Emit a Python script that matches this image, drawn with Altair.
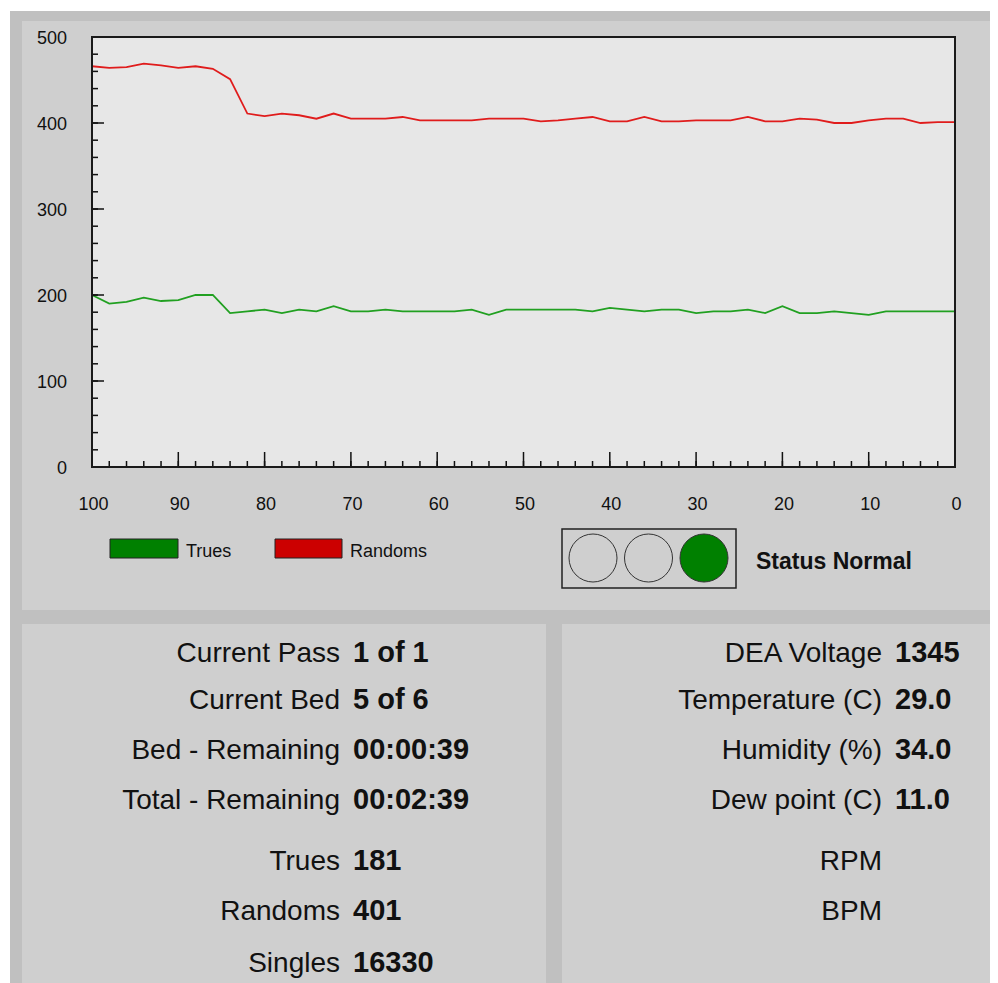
import altair as alt
import pandas as pd

# ---------------- data ----------------
seconds = [100, 98, 96, 94, 92, 90, 88, 86, 84, 82, 80, 78, 76, 74, 72, 70, 68, 66, 64, 62,
           60, 58, 56, 54, 52, 50, 48, 46, 44, 42, 40, 38, 36, 34, 32, 30, 28, 26, 24, 22,
           20, 18, 16, 14, 12, 10, 8, 6, 4, 2, 0]
trues = [200, 190, 192, 197, 193, 194, 200, 200, 179, 181, 183, 179, 183, 181, 187, 181, 181, 183, 181, 181,
         181, 181, 183, 177, 183, 183, 183, 183, 183, 181, 185, 183, 181, 183, 183, 179, 181, 181, 183, 179,
         187, 179, 179, 181, 179, 177, 181, 181, 181, 181, 181]
randoms = [466, 464, 465, 469, 467, 464, 466, 463, 451, 411, 408, 411, 409, 405, 411, 405, 405, 405, 407, 403,
           403, 403, 403, 405, 405, 405, 402, 403, 405, 407, 402, 402, 407, 402, 402, 403, 403, 403, 407, 402,
           402, 405, 404, 400, 400, 403, 405, 405, 400, 401, 401]
series_names = ["Trues", "Randoms"]
line_colors = ["#21a021", "#e01c1c"]
swatch_colors = ["#008000", "#cc0000"]

x_major = [100, 90, 80, 70, 60, 50, 40, 30, 20, 10, 0]
x_minor = list(range(0, 101, 2))
y_major = [0, 100, 200, 300, 400, 500]
y_minor = list(range(0, 501, 20))

left_labels = ["Current Pass", "Current Bed", "Bed - Remaining", "Total - Remaining",
               "Trues", "Randoms", "Singles"]
left_values = ["1 of 1", "5 of 6", "00:00:39", "00:02:39", "181", "401", "16330"]
right_labels = ["DEA Voltage", "Temperature (C)", "Humidity (%)", "Dew point (C)", "RPM", "BPM"]
right_values = ["1345", "29.0", "34.0", "11.0", "", ""]
status_text = "Status Normal"
status_lamps = ["off", "off", "on"]

# ---------------- layout (page pixel coords) ----------------
OX, OY, W, H = 92, 37, 863, 430
FONT = "Liberation Sans"
INK = "#111111"


def rx(X):
    return X - OX


def ry(Y):
    return Y - OY


one = pd.DataFrame({"k": [0]})


def rect(x1, y1, x2, y2, fill=None, stroke=None, sw=1.0):
    kw = {}
    if fill is not None:
        kw["fill"] = fill
    else:
        kw["fillOpacity"] = 0
    if stroke is not None:
        kw["stroke"] = stroke
        kw["strokeWidth"] = sw
    else:
        kw["strokeWidth"] = 0
    return alt.Chart(one).mark_rect(**kw).encode(
        x=alt.value(rx(x1)), x2=alt.value(rx(x2)),
        y=alt.value(ry(y1)), y2=alt.value(ry(y2)))


def text(s, X, Y, size, bold=False, align="left"):
    return alt.Chart(one).mark_text(
        text=s, align=align, baseline="alphabetic", fontSize=size,
        fontWeight="bold" if bold else "normal", font=FONT, color=INK
    ).encode(x=alt.value(rx(X)), y=alt.value(ry(Y)))


xs = alt.Scale(domain=[0, 100], reverse=True, nice=False, zero=False)
ys = alt.Scale(domain=[0, 500], nice=False)

layers = []
# backgrounds
layers.append(rect(10, 11, 1000, 990, fill="#c0c0c0"))
layers.append(rect(22, 21, 1000, 610, fill="#cfcfcf"))
layers.append(rect(22, 624, 546, 990, fill="#cfcfcf"))
layers.append(rect(562, 624, 1000, 990, fill="#cfcfcf"))
layers.append(rect(OX, OY, OX + W, OY + H, fill="#e7e7e7"))

# data lines
df = pd.DataFrame({
    "t": seconds * 2,
    "value": trues + randoms,
    "series": [series_names[0]] * len(seconds) + [series_names[1]] * len(seconds),
})
lines = alt.Chart(df).mark_line(strokeWidth=1.8).encode(
    x=alt.X("t:Q", scale=xs, axis=None),
    y=alt.Y("value:Q", scale=ys, axis=None),
    color=alt.Color("series:N", scale=alt.Scale(domain=series_names, range=line_colors),
                    legend=None),
)
layers.append(lines)

# inward ticks
tick_col = "#111111"
layers.append(alt.Chart(pd.DataFrame({"t": x_minor})).mark_rule(color=tick_col, strokeWidth=1.5).encode(
    x=alt.X("t:Q", scale=xs, axis=None), y=alt.value(H), y2=alt.value(H - 6)))
layers.append(alt.Chart(pd.DataFrame({"t": x_major})).mark_rule(color=tick_col, strokeWidth=1.5).encode(
    x=alt.X("t:Q", scale=xs, axis=None), y=alt.value(H), y2=alt.value(H - 15)))
layers.append(alt.Chart(pd.DataFrame({"value": y_minor})).mark_rule(color=tick_col, strokeWidth=1.5).encode(
    y=alt.Y("value:Q", scale=ys, axis=None), x=alt.value(0), x2=alt.value(6)))
layers.append(alt.Chart(pd.DataFrame({"value": y_major})).mark_rule(color=tick_col, strokeWidth=1.5).encode(
    y=alt.Y("value:Q", scale=ys, axis=None), x=alt.value(0), x2=alt.value(12)))

# tick labels (placed through the scales)
layers.append(alt.Chart(pd.DataFrame({"t": x_major, "lab": [str(v) for v in x_major]})).mark_text(
    font=FONT, fontSize=18, color=INK, align="center", baseline="alphabetic", dx=1.5
).encode(x=alt.X("t:Q", scale=xs, axis=None), y=alt.value(H + 43), text="lab:N"))
layers.append(alt.Chart(pd.DataFrame({"value": y_major, "lab": [str(v) for v in y_major]})).mark_text(
    font=FONT, fontSize=18, color=INK, align="right", baseline="alphabetic", dy=6.5
).encode(y=alt.Y("value:Q", scale=ys, axis=None), x=alt.value(-25), text="lab:N"))

# frame
layers.append(rect(OX, OY, OX + W, OY + H, stroke="#1a1a1a", sw=2))

# legend
layers.append(rect(110, 539, 178, 558, fill=swatch_colors[0], stroke="#222222", sw=1))
layers.append(text(series_names[0], 186, 557, 18))
layers.append(rect(275, 539, 342, 558, fill=swatch_colors[1], stroke="#222222", sw=1))
layers.append(text(series_names[1], 350, 557, 18))

# status lamps
layers.append(rect(562, 529, 736, 588, stroke="#222222", sw=1.5))
for i, st in enumerate(status_lamps):
    cx = 593 + 55.5 * i
    fill = "#008000" if st == "on" else "#cfcfcf"
    layers.append(alt.Chart(one).mark_point(shape="circle", size=48 * 48, filled=True,
                                            fill=fill, fillOpacity=1, stroke="#333333",
                                            strokeWidth=1, opacity=1).encode(
        x=alt.value(rx(cx)), y=alt.value(ry(558))))
layers.append(text(status_text, 756, 569, 23, bold=True))

# info panels
left_rows = [662, 709, 759, 809, 870, 920, 972]
for lab, val, yb in zip(left_labels, left_values, left_rows):
    layers.append(text(lab, 340, yb, 28, align="right"))
    if val:
        layers.append(text(val, 353, yb, 29, bold=True))
right_rows = [662, 709, 759, 809, 870, 920]
for lab, val, yb in zip(right_labels, right_values, right_rows):
    layers.append(text(lab, 882, yb, 28, align="right"))
    if val:
        layers.append(text(val, 895, yb, 29, bold=True))

chart = alt.layer(*layers).properties(
    width=W, height=H,
    autosize=alt.AutoSizeParams(type="none"),
    padding={"left": 84, "top": 29, "right": 35, "bottom": 516},
    background="white",
).configure_view(strokeWidth=0)

chart.save("out.html", embed_options={"renderer": "svg", "actions": False})
